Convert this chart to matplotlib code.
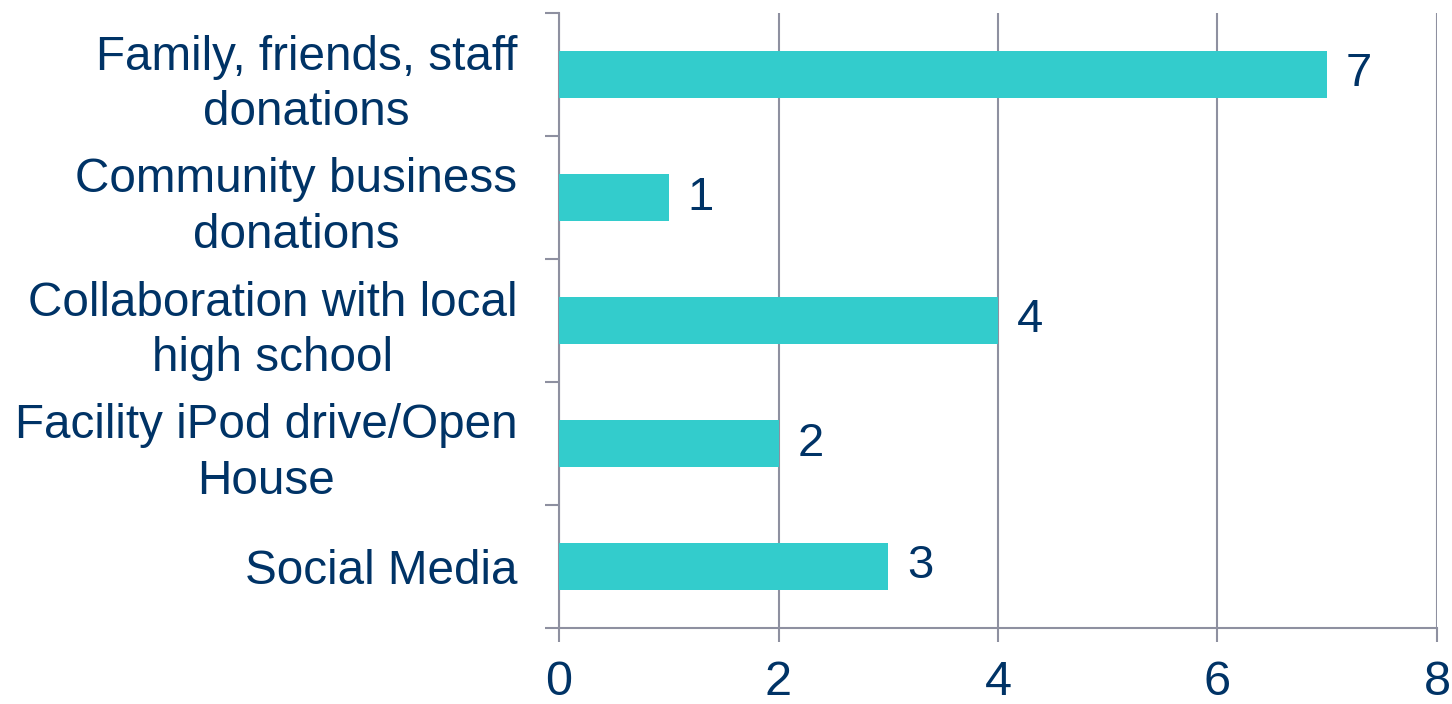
import matplotlib.pyplot as plt
import numpy as np

categories = ["Family, friends, staff\ndonations",
              "Community business\ndonations",
              "Collaboration with local\nhigh school",
              "Facility iPod drive/Open\nHouse",
              "Social Media"]
values = [7, 1, 4, 2, 3]
x_ticks = [0, 2, 4, 6, 8]

bar_color = '#33CCCC'
text_color = '#003366'
line_color = '#8E90A0'

plt.rcParams['font.family'] = ['Liberation Sans', 'DejaVu Sans']

fig = plt.figure(figsize=(14.52, 7.04), dpi=100)
ax = fig.add_axes([559 / 1452, 1 - 628 / 704, (1437 - 559) / 1452, (628 - 13) / 704])

y = np.arange(len(categories))
ax.barh(y, values, height=0.39, color=bar_color, zorder=3)
for yi, v in zip(y, values):
    ax.text(v + 0.17, yi, str(v), va='center', ha='left',
            fontsize=34, color=text_color)

ax.set_xlim(0, 8)
ax.set_ylim(len(categories) - 0.5, -0.5)

ax.set_xticks(x_ticks)
ax.set_xticklabels([str(t) for t in x_ticks])
ax.set_yticks(y)
ax.set_yticklabels(categories, ha='right', multialignment='center', linespacing=1.3)
ax.set_yticks(np.arange(len(categories) + 1) - 0.5, minor=True)

ax.tick_params(axis='y', which='major', length=0, pad=30,
               labelsize=34.3, labelcolor=text_color)
ax.tick_params(axis='y', which='minor', length=10, width=1.5,
               color=line_color, direction='out')
ax.tick_params(axis='x', which='major', length=10, width=1.5,
               color=line_color, pad=13, labelsize=35, labelcolor=text_color)

ax.grid(axis='x', color=line_color, linewidth=1.5, zorder=0)
ax.grid(axis='y', visible=False)
for s in ['top', 'right']:
    ax.spines[s].set_visible(False)
for s in ['left', 'bottom']:
    ax.spines[s].set_color(line_color)
    ax.spines[s].set_linewidth(1.5)

fig.savefig('out.png', dpi=100)
